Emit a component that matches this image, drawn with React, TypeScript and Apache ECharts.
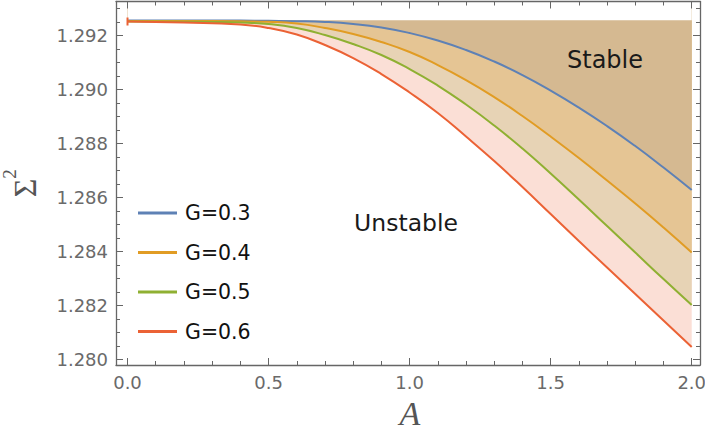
import React, { useEffect, useRef } from "react";
import * as echarts from "echarts";

// A values (horizontal axis)
const aValues = [0, 0.2, 0.4, 0.5, 0.6, 0.7, 0.8, 0.9, 1.0, 1.1, 1.2, 1.3, 1.4, 1.5, 1.6, 1.7, 1.8, 1.9, 2.0];
// Sigma^2 for each G
const sigmaG03 = [1.292556, 1.292556, 1.292552, 1.292544, 1.292533, 1.292504, 1.29243, 1.2923, 1.292093, 1.291815, 1.291463, 1.291037, 1.290537, 1.289963, 1.289333, 1.288648, 1.287907, 1.287111, 1.286278];
const sigmaG04 = [1.292537, 1.292537, 1.292526, 1.292507, 1.292444, 1.292278, 1.292056, 1.291759, 1.291389, 1.290907, 1.290352, 1.289722, 1.289019, 1.288259, 1.287463, 1.28663, 1.285778, 1.284889, 1.283963];
const sigmaG05 = [1.292519, 1.292511, 1.292481, 1.292426, 1.292278, 1.292019, 1.291685, 1.291278, 1.290759, 1.290148, 1.289444, 1.288667, 1.287815, 1.286889, 1.285926, 1.284944, 1.283963, 1.282981, 1.282019];
const sigmaG06 = [1.292519, 1.292481, 1.292407, 1.292278, 1.292037, 1.291648, 1.291167, 1.290574, 1.289889, 1.28913, 1.288259, 1.287352, 1.286389, 1.285389, 1.284389, 1.283407, 1.282426, 1.281444, 1.280463];
const sigmaTop = 1.29257;

const seriesNames = ["G=0.3", "G=0.4", "G=0.5", "G=0.6"];
const lineColors = ["#5e81b5", "#e19c24", "#8fb032", "#eb6235"];
// fill seen above each curve (blue, orange, green, red)
const fillColors = ["#d5b991", "#e5c594", "#e7d3b5", "#fbdfd6"];

const xMajorTicks = [0, 0.5, 1.0, 1.5, 2.0];
const xMinorTicks = [0.1, 0.2, 0.3, 0.4, 0.6, 0.7, 0.8, 0.9, 1.1, 1.2, 1.3, 1.4, 1.6, 1.7, 1.8, 1.9];
const yMajorTicks = [1.28, 1.282, 1.284, 1.286, 1.288, 1.29, 1.292];
const yMinorTicks = [1.2805, 1.281, 1.2815, 1.2825, 1.283, 1.2835, 1.2845, 1.285, 1.2855, 1.2865, 1.287, 1.2875, 1.2885, 1.289, 1.2895, 1.2905, 1.291, 1.2915, 1.2925, 1.293];

const X_MIN = -0.0408;
const X_MAX = 2.0294;
const Y_MIN = 1.2798;
const Y_MAX = 1.29326;

const FRAME = "#666666";
const LABEL = "#6a6a6a";
const SANS = "DejaVu Sans";

export default function App() {
  const ref = useRef<HTMLDivElement>(null);

  useEffect(() => {
    if (!ref.current) return;
    const chart = echarts.init(ref.current, undefined, { renderer: "svg" });

    const curves = [sigmaG03, sigmaG04, sigmaG05, sigmaG06];
    const pts = (vals: number[]) => aValues.map((a, i) => [a, vals[i]]);
    const smooth = 0.5;

    const series: any[] = [];
    // filled regions: from each curve up to the top; red first so later ones paint over
    [3, 2, 1, 0].forEach((i) => {
      series.push({
        type: "line",
        name: "fill" + i,
        data: pts(curves[i]),
        symbol: "none",
        smooth,
        silent: true,
        lineStyle: { width: 0, opacity: 0 },
        areaStyle: { color: fillColors[i], opacity: 1, origin: "end" },
        xAxisIndex: 0,
        yAxisIndex: 0,
        z: 1,
      });
    });
    // white above the filling level
    series.push({
      type: "line",
      name: "mask",
      data: pts(aValues.map(() => sigmaTop)),
      symbol: "none",
      silent: true,
      lineStyle: { width: 0, opacity: 0 },
      areaStyle: { color: "#ffffff", opacity: 1, origin: "end" },
      xAxisIndex: 0,
      yAxisIndex: 0,
      z: 2,
    });
    curves.forEach((c, i) => {
      const s: any = {
        type: "line",
        name: seriesNames[i],
        data: pts(c),
        symbol: "none",
        smooth,
        color: lineColors[i],
        lineStyle: { color: lineColors[i], width: 2 },
        itemStyle: { color: lineColors[i] },
        xAxisIndex: 0,
        yAxisIndex: 0,
        z: 3,
      };
      if (i === 3) {
        s.markPoint = {
          silent: true,
          symbol: "rect",
          symbolSize: [2, 8],
          itemStyle: { color: lineColors[i] },
          label: { show: false },
          data: [{ coord: [aValues[0], c[0]] }],
        };
      }
      series.push(s);
    });

    const gridRect = { left: 116, right: 5, top: 1.5, bottom: 67, outerBoundsMode: "none", containLabel: false };

    const xAxisCommon = { type: "value", min: X_MIN, max: X_MAX, splitLine: { show: false }, z: 10 };
    const yAxisCommon = { type: "value", min: Y_MIN, max: Y_MAX, splitLine: { show: false }, z: 10 };
    const lineOn = { show: true, onZero: false, lineStyle: { color: FRAME, width: 1.3 } };
    const lineOff = { show: false, onZero: false };

    const option: any = {
      animation: false,
      grid: [gridRect, { ...gridRect }],
      xAxis: [
        {
          ...xAxisCommon, gridIndex: 0, position: "bottom", axisLine: lineOn,
          axisTick: { show: true, inside: true, length: 7, customValues: xMajorTicks, lineStyle: { color: FRAME } },
          axisLabel: {
            show: true, customValues: xMajorTicks, margin: 8, color: LABEL, fontFamily: SANS, fontSize: 18,
            formatter: (v: number) => v.toFixed(1),
          },
        },
        {
          ...xAxisCommon, gridIndex: 0, position: "top", axisLine: lineOn,
          axisTick: { show: true, inside: true, length: 7, customValues: xMajorTicks, lineStyle: { color: FRAME } },
          axisLabel: { show: false },
        },
        {
          ...xAxisCommon, gridIndex: 1, position: "bottom", axisLine: lineOff,
          axisTick: { show: true, inside: true, length: 4, customValues: xMinorTicks, lineStyle: { color: FRAME } },
          axisLabel: { show: false },
        },
        {
          ...xAxisCommon, gridIndex: 1, position: "top", axisLine: lineOff,
          axisTick: { show: true, inside: true, length: 4, customValues: xMinorTicks, lineStyle: { color: FRAME } },
          axisLabel: { show: false },
        },
      ],
      yAxis: [
        {
          ...yAxisCommon, gridIndex: 0, position: "left", axisLine: lineOn,
          axisTick: { show: true, inside: true, length: 7, customValues: yMajorTicks, lineStyle: { color: FRAME } },
          axisLabel: {
            show: true, customValues: yMajorTicks, margin: 8, color: LABEL, fontFamily: SANS, fontSize: 18,
            formatter: (v: number) => v.toFixed(3),
          },
        },
        {
          ...yAxisCommon, gridIndex: 0, position: "right", axisLine: lineOn,
          axisTick: { show: true, inside: true, length: 7, customValues: yMajorTicks, lineStyle: { color: FRAME } },
          axisLabel: { show: false },
        },
        {
          ...yAxisCommon, gridIndex: 1, position: "left", axisLine: lineOff,
          axisTick: { show: true, inside: true, length: 4, customValues: yMinorTicks, lineStyle: { color: FRAME } },
          axisLabel: { show: false },
        },
        {
          ...yAxisCommon, gridIndex: 1, position: "right", axisLine: lineOff,
          axisTick: { show: true, inside: true, length: 4, customValues: yMinorTicks, lineStyle: { color: FRAME } },
          axisLabel: { show: false },
        },
      ],
      legend: {
        data: seriesNames,
        orient: "vertical",
        left: 133,
        top: 197,
        itemWidth: 39,
        itemHeight: 3,
        itemGap: 17.5,
        icon: "rect",
        selectedMode: false,
        textStyle: { fontFamily: SANS, fontSize: 20.5, color: "#111", lineHeight: 22, padding: [0, 0, 0, 3] },
      },
      graphic: [
        {
          type: "text", x: 605, y: 60, z: 10,
          style: { text: "Stable", font: `24px "${SANS}"`, fill: "#1a1a1a", align: "center", verticalAlign: "middle" },
        },
        {
          type: "text", x: 406, y: 223, z: 10,
          style: { text: "Unstable", font: `23.5px "${SANS}"`, fill: "#1a1a1a", align: "center", verticalAlign: "middle" },
        },
        {
          type: "text", x: 410, y: 413, z: 10,
          style: { text: "A", font: `italic 34px "Liberation Serif"`, fill: "#555", align: "center", verticalAlign: "middle" },
        },
        {
          type: "group", x: 25, y: 188, rotation: Math.PI / 2, z: 10,
          children: [
            { type: "text", x: 0, y: 0, style: { text: "Σ", font: `32px "Liberation Serif"`, fill: "#555", align: "center", verticalAlign: "middle" } },
            { type: "text", x: 14, y: -16, style: { text: "2", font: `19px "Liberation Serif"`, fill: "#555", align: "center", verticalAlign: "middle" } },
          ],
        },
      ],
      series,
    };

    chart.setOption(option);
    return () => chart.dispose();
  }, []);

  return (
    <div
      ref={ref}
      style={{ position: "fixed", left: 0, top: 0, width: 705, height: 432, background: "#fff" }}
    />
  );
}
